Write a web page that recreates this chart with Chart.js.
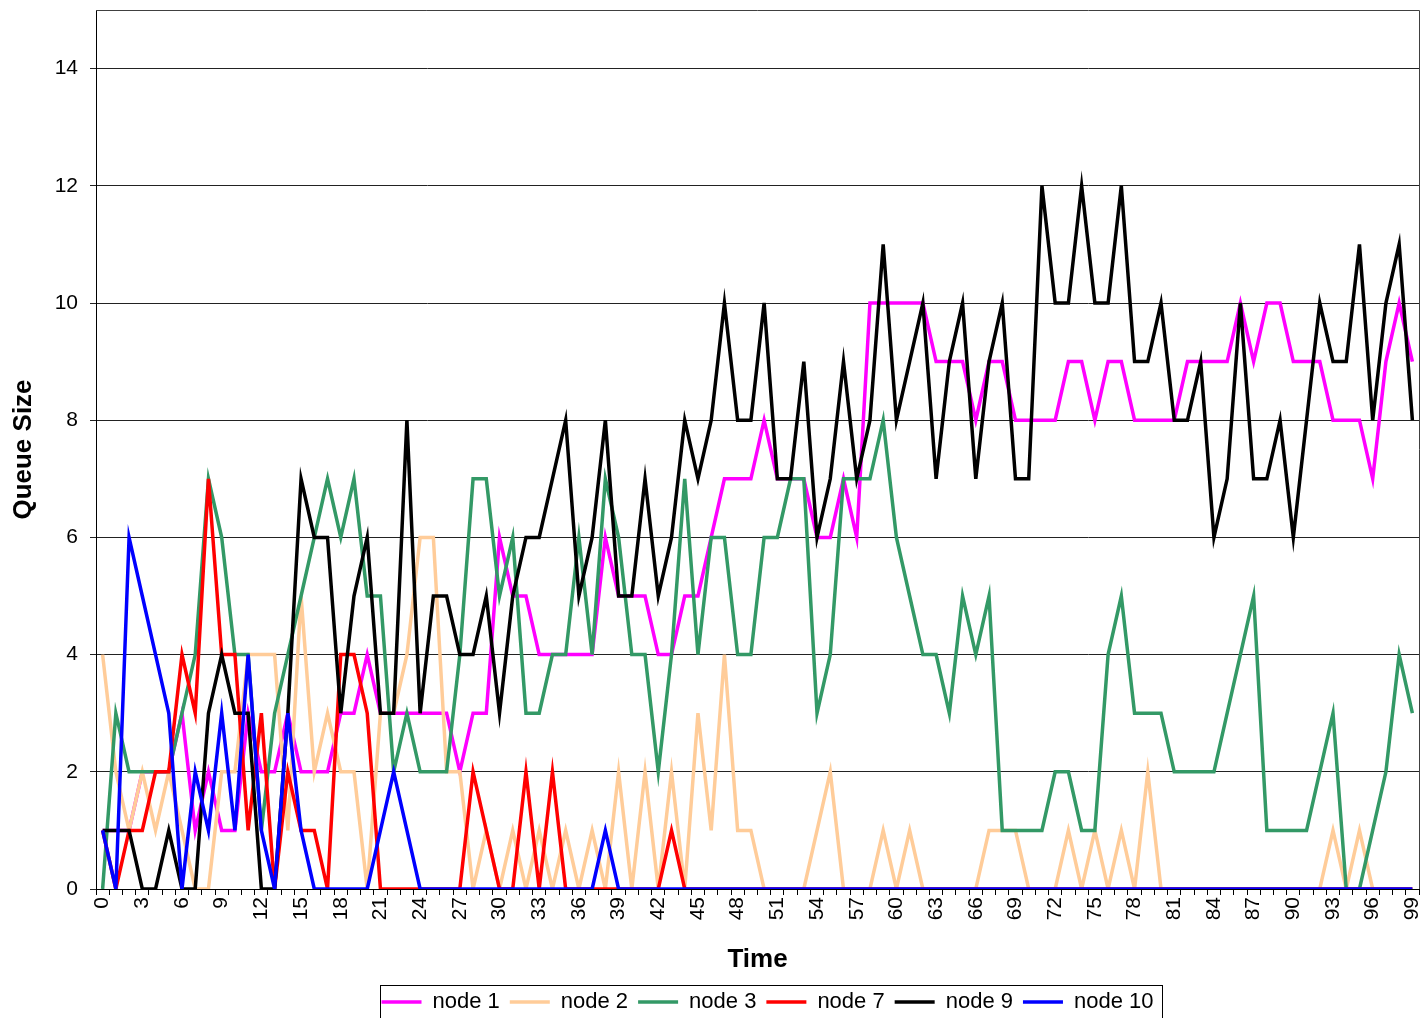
<!DOCTYPE html>
<html lang="en">
<head>
<meta charset="UTF-8" />
<title>Queue Size</title>
<script src="https://cdn.jsdelivr.net/npm/chart.js"></script>
<style>
    html, body { margin: 0; padding: 0; background: #fff; }
    canvas { display: block; }
</style>
</head>
<body>

<canvas id="grafico" width="1420" height="1018"></canvas>

<script>
    // eixo x: instantes 0..99
    const tempos = Array.from({ length: 100 }, (_, i) => String(i));

    const node1 = [
        1, 1, 1, 2, 2, 2, 3, 1, 2, 1,
        1, 3, 2, 2, 3, 2, 2, 2, 3, 3,
        4, 3, 3, 3, 3, 3, 3, 2, 3, 3,
        6, 5, 5, 4, 4, 4, 4, 4, 6, 5,
        5, 5, 4, 4, 5, 5, 6, 7, 7, 7,
        8, 7, 7, 7, 6, 6, 7, 6, 10, 10,
        10, 10, 10, 9, 9, 9, 8, 9, 9, 8,
        8, 8, 8, 9, 9, 8, 9, 9, 8, 8,
        8, 8, 9, 9, 9, 9, 10, 9, 10, 10,
        9, 9, 9, 8, 8, 8, 7, 9, 10, 9
    ];
    const node2 = [
        4, 2, 1, 2, 1, 2, 1, 0, 0, 2,
        2, 4, 4, 4, 1, 5, 2, 3, 2, 2,
        0, 3, 3, 4, 6, 6, 2, 2, 0, 1,
        0, 1, 0, 1, 0, 1, 0, 1, 0, 2,
        0, 2, 0, 2, 0, 3, 1, 4, 1, 1,
        0, 0, 0, 0, 1, 2, 0, 0, 0, 1,
        0, 1, 0, 0, 0, 0, 0, 1, 1, 1,
        0, 0, 0, 1, 0, 1, 0, 1, 0, 2,
        0, 0, 0, 0, 0, 0, 0, 0, 0, 0,
        0, 0, 0, 1, 0, 1, 0, 0, 0, 0
    ];
    const node3 = [
        0, 3, 2, 2, 2, 2, 3, 4, 7, 6,
        4, 4, 1, 3, 4, 5, 6, 7, 6, 7,
        5, 5, 2, 3, 2, 2, 2, 4, 7, 7,
        5, 6, 3, 3, 4, 4, 6, 4, 7, 6,
        4, 4, 2, 4, 7, 4, 6, 6, 4, 4,
        6, 6, 7, 7, 3, 4, 7, 7, 7, 8,
        6, 5, 4, 4, 3, 5, 4, 5, 1, 1,
        1, 1, 2, 2, 1, 1, 4, 5, 3, 3,
        3, 2, 2, 2, 2, 3, 4, 5, 1, 1,
        1, 1, 2, 3, 0, 0, 1, 2, 4, 3
    ];
    const node7 = [
        1, 0, 1, 1, 2, 2, 4, 3, 7, 4,
        4, 1, 3, 0, 2, 1, 1, 0, 4, 4,
        3, 0, 0, 0, 0, 0, 0, 0, 2, 1,
        0, 0, 2, 0, 2, 0, 0, 0, 0, 0,
        0, 0, 0, 1, 0, 0, 0, 0, 0, 0,
        0, 0, 0, 0, 0, 0, 0, 0, 0, 0,
        0, 0, 0, 0, 0, 0, 0, 0, 0, 0,
        0, 0, 0, 0, 0, 0, 0, 0, 0, 0,
        0, 0, 0, 0, 0, 0, 0, 0, 0, 0,
        0, 0, 0, 0, 0, 0, 0, 0, 0, 0
    ];
    const node9 = [
        1, 1, 1, 0, 0, 1, 0, 0, 3, 4,
        3, 3, 0, 0, 3, 7, 6, 6, 3, 5,
        6, 3, 3, 8, 3, 5, 5, 4, 4, 5,
        3, 5, 6, 6, 7, 8, 5, 6, 8, 5,
        5, 7, 5, 6, 8, 7, 8, 10, 8, 8,
        10, 7, 7, 9, 6, 7, 9, 7, 8, 11,
        8, 9, 10, 7, 9, 10, 7, 9, 10, 7,
        7, 12, 10, 10, 12, 10, 10, 12, 9, 9,
        10, 8, 8, 9, 6, 7, 10, 7, 7, 8,
        6, 8, 10, 9, 9, 11, 8, 10, 11, 8
    ];
    const node10 = [
        1, 0, 6, 5, 4, 3, 0, 2, 1, 3,
        1, 4, 1, 0, 3, 1, 0, 0, 0, 0,
        0, 1, 2, 1, 0, 0, 0, 0, 0, 0,
        0, 0, 0, 0, 0, 0, 0, 0, 1, 0,
        0, 0, 0, 0, 0, 0, 0, 0, 0, 0,
        0, 0, 0, 0, 0, 0, 0, 0, 0, 0,
        0, 0, 0, 0, 0, 0, 0, 0, 0, 0,
        0, 0, 0, 0, 0, 0, 0, 0, 0, 0,
        0, 0, 0, 0, 0, 0, 0, 0, 0, 0,
        0, 0, 0, 0, 0, 0, 0, 0, 0, 0
    ];

    const nomes = ['node 1', 'node 2', 'node 3', 'node 7', 'node 9', 'node 10'];
    const cores = ['#FF00FF', '#FFCC99', '#339966', '#FF0000', '#000000', '#0000FF'];
    const series = [node1, node2, node3, node7, node9, node10];

    const fonte = "'Liberation Sans', Arial, sans-serif";
    Chart.defaults.font.family = fonte;
    Chart.defaults.color = '#000';

    // borda da area do grafico + caixa da legenda
    const molduras = {
        id: 'molduras',
        afterLayout(chart) {
            const lg = chart.legend;
            lg.left += 58;
            lg.right += 58;
        },
        afterDraw(chart) {
            const { ctx, chartArea: a } = chart;
            ctx.save();
            ctx.lineWidth = 1;
            ctx.strokeStyle = '#404040';
            ctx.beginPath();
            ctx.moveTo(a.left, a.top + 0.5);
            ctx.lineTo(a.right + 0.5, a.top + 0.5);
            ctx.lineTo(a.right + 0.5, a.bottom);
            ctx.stroke();

            const hb = chart.legend.legendHitBoxes;
            const l = Math.min(...hb.map(h => h.left)) - 2;
            const r = Math.max(...hb.map(h => h.left + h.width)) + 8;
            ctx.strokeStyle = '#000';
            ctx.strokeRect(Math.round(l) + 0.5, Math.round(chart.legend.top + 4) + 0.5, Math.round(r - l), 40);
            ctx.restore();
        }
    };

    new Chart(document.getElementById('grafico').getContext('2d'), {
        type: 'line',
        data: {
            labels: tempos,
            datasets: series.map((dados, i) => ({
                label: nomes[i],
                data: dados,
                borderColor: cores[i],
                backgroundColor: cores[i],
                borderWidth: 3.5,
                pointRadius: 0,
                tension: 0,
                fill: false,
                order: series.length - i
            }))
        },
        options: {
            responsive: false,
            animation: false,
            layout: { padding: { top: 10, right: 1, left: 0, bottom: -5 } },
            plugins: {
                tooltip: { enabled: false },
                legend: {
                    position: 'bottom',
                    labels: {
                        usePointStyle: true,
                        pointStyle: 'line',
                        pointStyleWidth: 40,
                        padding: 10,
                        color: '#000',
                        font: { size: 22 },
                        sort: (a, b) => a.datasetIndex - b.datasetIndex
                    }
                }
            },
            scales: {
                x: {
                    type: 'category',
                    offset: true,
                    grid: {
                        display: true,
                        drawOnChartArea: false,
                        drawTicks: true,
                        tickLength: 6,
                        color: '#000',
                        offset: true
                    },
                    border: { color: '#000' },
                    ticks: {
                        autoSkip: false,
                        maxRotation: 90,
                        minRotation: 90,
                        padding: 2,
                        font: { size: 21 },
                        callback: function (v, i) {
                            return i % 3 === 0 ? this.getLabelForValue(v) : '';
                        }
                    },
                    title: {
                        display: true,
                        text: 'Time',
                        font: { size: 26, weight: 'bold' },
                        padding: { top: 0, bottom: 6 }
                    },
                    afterFit: s => {
                        s.height = 92;
                        s.paddingLeft = 0;
                        s.paddingRight = 0;
                    }
                },
                y: {
                    min: 0,
                    max: 15,
                    grid: { color: '#222', lineWidth: 1, tickLength: 6 },
                    border: { color: '#000' },
                    ticks: {
                        stepSize: 2,
                        includeBounds: false,
                        padding: 12,
                        font: { size: 21 }
                    },
                    title: {
                        display: true,
                        text: 'Queue Size',
                        font: { size: 26, weight: 'bold' },
                        padding: { top: 8, bottom: 0 }
                    },
                    afterFit: s => {
                        s.width = 96;
                        s.paddingTop = 0;
                        s.paddingBottom = 0;
                    }
                }
            }
        },
        plugins: [molduras]
    });
</script>
</body>
</html>
